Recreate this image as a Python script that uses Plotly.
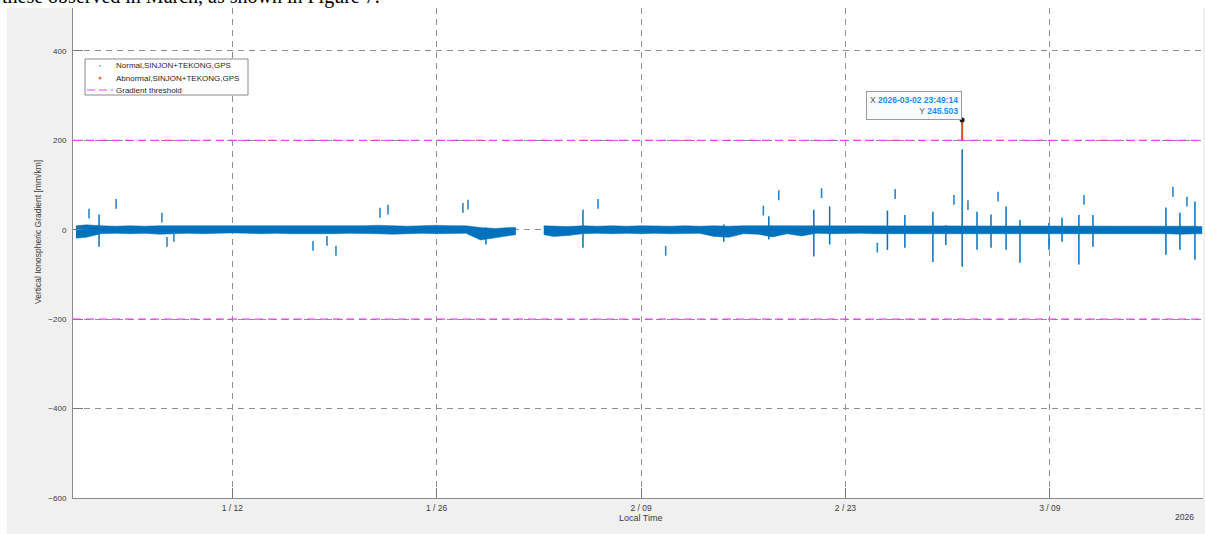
import pandas as pd
import plotly.graph_objects as go

# ---------------- data ----------------
# Core band of the vertical gradient (mm/km): daily upper / lower envelope
seg1_times = (["2026-01-01 07:00"]
              + [d.strftime("%Y-%m-%d 00:00") for d in pd.date_range("2026-01-02", "2026-01-31", freq="D")]
              + ["2026-01-31 10:00"])
seg1_hi = [9, 11, 9, 8, 9, 8, 9, 9, 8, 9, 8, 9, 8, 9, 9, 8,
           9, 9, 8, 9, 9, 10, 9, 8, 9, 10, 9, 9, 5, 3, 5, 5]
seg1_lo = [-19, -17, -9, -8, -9, -8, -10, -9, -8, -9, -8, -7, -8, -9, -8, -9,
           -10, -9, -9, -8, -8, -9, -10, -9, -8, -9, -9, -8, -23, -19, -13, -11]

seg2_times = (["2026-02-02 08:00"]
              + [d.strftime("%Y-%m-%d 00:00") for d in pd.date_range("2026-02-03", "2026-03-19", freq="D")]
              + ["2026-03-19 10:00"])
seg2_hi = [9, 8, 7, 9, 8, 9, 8, 9, 8, 8, 9, 8, 9, 8, 9, 9,
           8, 9, 9, 8, 9, 9, 8, 9, 9, 8, 9, 9, 8, 9, 9, 8,
           9, 9, 8, 9, 9, 8, 9, 8, 9, 9, 8, 9, 9, 8, 7]
seg2_lo = [-11, -15, -13, -9, -8, -9, -8, -9, -8, -9, -9, -8, -15, -17, -9, -10,
           -16, -9, -14, -8, -9, -9, -8, -9, -10, -9, -9, -10, -9, -9, -10, -9,
           -10, -9, -9, -10, -9, -9, -10, -9, -9, -10, -9, -9, -10, -9, -9]

# Short bursts (time, min, max)
spike_times = ["2026-01-02 21:00", "2026-01-29 09:00", "2026-02-05 00:30", "2026-02-14 16:00",
               "2026-02-17 18:00", "2026-02-20 20:00", "2026-02-21 22:00", "2026-02-25 21:00",
               "2026-02-27 01:40", "2026-02-28 23:45", "2026-03-01 21:00", "2026-03-02 23:49",
               "2026-03-04 00:15", "2026-03-04 23:15", "2026-03-06 00:00", "2026-03-06 22:50",
               "2026-03-08 22:30", "2026-03-09 20:00", "2026-03-10 23:45", "2026-03-11 22:50",
               "2026-03-16 22:50", "2026-03-17 21:50", "2026-03-18 22:30"]
spike_lo = [-38, -33, -40, -27,
            -22, -60, -33, -45,
            -40, -72, -34, -83,
            -45, -40, -45, -74,
            -45, -27, -78, -38,
            -56, -45, -67]
spike_hi = [34, 5, 45, 12,
            30, 45, 52, 43,
            33, 40, 10, 180,
            40, 34, 52, 22,
            15, 27, 33, 33,
            50, 38, 63]

# Isolated samples away from the band
dot_times = ["2026-01-02 04:30", "2026-01-04 01:00", "2026-01-07 04:20", "2026-01-07 12:40",
             "2026-01-08 00:00", "2026-01-17 12:40", "2026-01-18 11:45", "2026-01-19 02:25",
             "2026-01-22 02:50", "2026-01-22 16:00", "2026-01-27 19:10", "2026-01-28 03:30",
             "2026-02-06 01:10", "2026-02-10 16:30", "2026-02-17 09:00", "2026-02-18 10:20",
             "2026-02-21 08:40", "2026-02-25 04:20", "2026-02-26 09:40",
             "2026-03-02 10:20", "2026-03-03 09:20", "2026-03-05 10:50", "2026-03-11 08:10",
             "2026-03-17 10:20", "2026-03-18 09:20"]
dot_vals = [36, 58, 27, -27,
            -16, -36, -25, -47,
            38, 45, 49, 56,
            58, -47, 43, 77,
            82, -40, 80,
            67, 55, 74, 67,
            85, 63]

# Flagged (abnormal) sample
abn_time = "2026-03-02 23:49:14"
abn_lo = 200
abn_val = 245.503

threshold = 200
y_ticks = [-600, -400, -200, 0, 200, 400]
x_ticks = ["2026-01-12", "2026-01-26", "2026-02-09", "2026-02-23", "2026-03-09"]
x_ticklabels = ["1 / 12", "1 / 26", "2 / 09", "2 / 23", "3 / 09"]

# ---------------- styles ----------------
BLUE = "#0072BD"
RED = "#D95319"
MAGENTA = "#f23cf2"
FONT = "Liberation Sans, Arial, sans-serif"
TXT = "#3c3c3c"

W, H = 1205, 534
ML, MR, MT, MB = 73, 2, 8, 36
PW, PH = W - ML - MR, H - MT - MB


def px(x):
    return (x - ML) / PW


def py(y):
    return (H - MB - y) / PH


fig = go.Figure()


def band(times, hi, lo):
    t = list(pd.to_datetime(times, format="%Y-%m-%d %H:%M"))
    xs = t + t[::-1]
    ys = list(hi) + list(lo)[::-1]
    fig.add_trace(go.Scatter(x=xs, y=ys, fill="toself", fillcolor=BLUE, mode="lines",
                             line=dict(color=BLUE, width=0.5), hoverinfo="skip", showlegend=False))


band(seg1_times, seg1_hi, seg1_lo)
band(seg2_times, seg2_hi, seg2_lo)

sx, sy = [], []
for t, lo, hi in zip(spike_times, spike_lo, spike_hi):
    sx += [t, t, None]
    sy += [lo, hi, None]
fig.add_trace(go.Scatter(x=sx, y=sy, mode="lines", line=dict(color=BLUE, width=1.5),
                         hoverinfo="skip", showlegend=False))

fig.add_trace(go.Scatter(x=dot_times, y=dot_vals, mode="markers",
                         marker=dict(symbol="line-ns", size=7, line=dict(width=1.6, color="#2a86c8")),
                         hoverinfo="skip", showlegend=False))

fig.add_trace(go.Scatter(x=[abn_time, abn_time], y=[abn_lo, abn_val], mode="lines",
                         line=dict(color=RED, width=2), hoverinfo="skip", showlegend=False))
fig.add_trace(go.Scatter(x=[abn_time], y=[abn_val], mode="markers",
                         marker=dict(color="#1a1a1a", size=5), hoverinfo="skip", showlegend=False))

# Threshold lines
for v in (threshold, -threshold):
    fig.add_shape(type="line", xref="paper", yref="y", x0=0, x1=1, y0=v, y1=v,
                  line=dict(color=MAGENTA, width=1.2, dash="8px,5px"), layer="above")

# White page margins around the figure window, and the document text above it
fig.add_shape(type="rect", xref="paper", yref="paper", x0=px(-5), x1=px(7), y0=py(H + 5), y1=py(-5),
              fillcolor="white", line=dict(width=0), layer="below")
fig.add_shape(type="rect", xref="paper", yref="paper", x0=px(-5), x1=px(W + 5), y0=py(8), y1=py(-5),
              fillcolor="white", line=dict(width=0), layer="below")
fig.add_annotation(xref="paper", yref="paper", x=px(0), y=py(10), xanchor="left", yanchor="bottom",
                   text="these observed in March, as shown in Figure 7.", showarrow=False,
                   font=dict(family="Liberation Serif, Times New Roman, serif", size=20, color="#000"))

# Legend
fig.add_shape(type="rect", xref="paper", yref="paper", x0=px(85), x1=px(248), y0=py(95), y1=py(59),
              fillcolor="white", line=dict(color="#8a8a8a", width=1))
fig.add_shape(type="circle", xref="paper", yref="paper", x0=px(99), x1=px(101), y0=py(67), y1=py(65),
              fillcolor="#7fb6e0", line=dict(width=0))
fig.add_shape(type="circle", xref="paper", yref="paper", x0=px(98.5), x1=px(101.5), y0=py(79.5), y1=py(76.5),
              fillcolor="#e8784a", line=dict(width=0))
fig.add_shape(type="line", xref="paper", yref="paper", x0=px(87), x1=px(113), y0=py(90), y1=py(90),
              line=dict(color=MAGENTA, width=1.2, dash="8px,4px"))
for yy, txt in [(66, "Normal,SINJON+TEKONG,GPS"), (78, "Abnormal,SINJON+TEKONG,GPS"),
                (90, "Gradient threshold")]:
    fig.add_annotation(xref="paper", yref="paper", x=px(114), y=py(yy), xanchor="left", yanchor="middle",
                       text=txt, showarrow=False, font=dict(family=FONT, size=8, color="#262626"))

# Data tip
fig.add_annotation(x=abn_time, y=abn_val, xref="x", yref="y", xanchor="right", yanchor="bottom",
                   showarrow=False, align="right", bgcolor="#fafbfd", bordercolor="#9a9a9a",
                   borderwidth=1, borderpad=3,
                   text=("<span style='color:#555'>X </span><b style='color:#1a8cff'>2026-03-02 23:49:14</b><br>"
                         "<span style='color:#555'>Y </span><b style='color:#1a8cff'>245.503</b>"),
                   font=dict(family=FONT, size=8.5))

# Axis titles
fig.add_annotation(xref="paper", yref="paper", x=px(38), y=py(232), xanchor="center", yanchor="middle",
                   textangle=-90, showarrow=False,
                   text="Vertical Ionospheric Gradient [mm/km]", font=dict(family=FONT, size=8.5, color=TXT))
fig.add_annotation(xref="paper", yref="paper", x=px(641), y=py(518), xanchor="center", yanchor="middle",
                   showarrow=False, text="Local Time", font=dict(family=FONT, size=9, color=TXT))
fig.add_annotation(xref="paper", yref="paper", x=px(1196), y=py(517), xanchor="right", yanchor="middle",
                   showarrow=False, text="2026", font=dict(family=FONT, size=8.5, color=TXT))

fig.update_layout(
    width=W, height=H, margin=dict(l=ML, r=MR, t=MT, b=MB),
    paper_bgcolor="#f0f0f0", plot_bgcolor="white", showlegend=False,
    xaxis=dict(range=["2026-01-01 02:10", "2026-03-19 11:45"], tickvals=x_ticks, ticktext=x_ticklabels,
               showgrid=True, gridcolor="#8f8f8f", griddash="6px,5px", gridwidth=1,
               ticks="inside", ticklen=10, tickcolor="#777", showline=True, linecolor="#8a8a8a",
               zeroline=False, tickfont=dict(family=FONT, size=8.5, color=TXT), ticklabelstandoff=2),
    yaxis=dict(range=[-600, 496], tickvals=y_ticks, showgrid=True, gridcolor="#8f8f8f",
               griddash="6px,5px", gridwidth=1, ticks="inside", ticklen=10, tickcolor="#777",
               showline=True, linecolor="#8a8a8a", zeroline=False,
               tickfont=dict(family=FONT, size=8, color=TXT), ticklabelstandoff=4),
)

fig.write_html("out.html")
